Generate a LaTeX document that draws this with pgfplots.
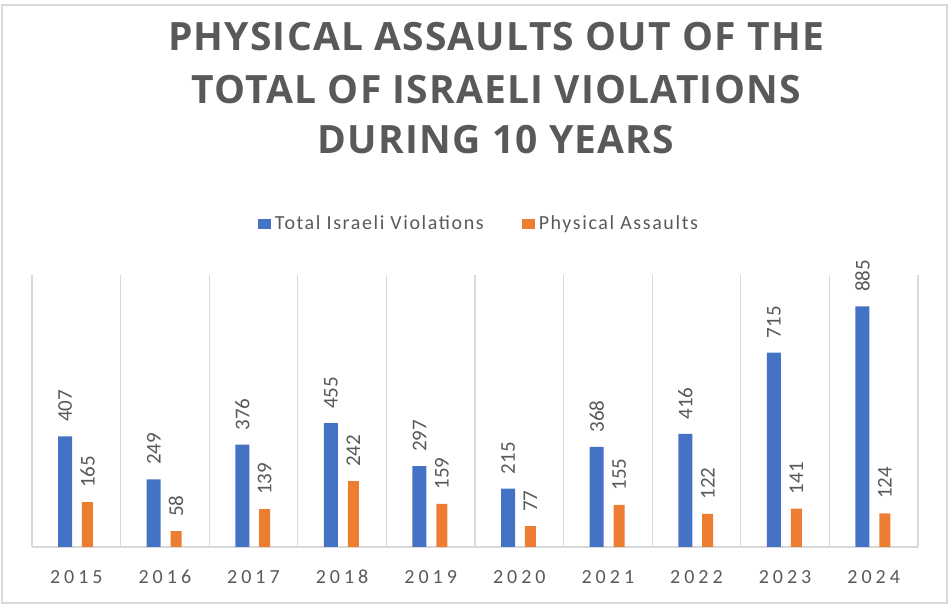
\documentclass[border=0pt]{standalone}
\usepackage{fontspec}
\setmainfont{Carlito}
\newfontfamily\titlefont{Open Sans}[LetterSpace=3]
\newfontfamily\tickfont{Carlito}[LetterSpace=20]
\newfontfamily\legfont{Carlito}[LetterSpace=8]
\usepackage{pgfplots}
\pgfplotsset{compat=1.18}

\definecolor{cblue}{HTML}{4472C4}
\definecolor{corange}{HTML}{ED7D31}
\definecolor{ctext}{HTML}{595959}
\definecolor{cgrid}{HTML}{D9D9D9}

\begin{document}
\begin{tikzpicture}
\useasboundingbox (-16pt,-29.5pt) rectangle (459pt,273.5pt);
\draw[cgrid, line width=0.7pt] (-15pt,-28pt) rectangle (457.5pt,271pt);

% title, three centred lines
\foreach \ln/\yy in {{PHYSICAL ASSAULTS OUT OF THE}/255, {TOTAL OF ISRAELI VIOLATIONS}/228.5, {DURING 10 YEARS}/203.5}
  \node[text=ctext, font=\titlefont\bfseries\fontsize{19.5}{22}\selectfont, inner sep=0pt] at (232pt,\yy pt) {\ln};

\begin{axis}[
    at={(0,0)}, anchor=south west,
    scale only axis,
    width=443pt, height=136pt,
    xmin=-0.5, xmax=9.5,
    ymin=0, ymax=1000,
    axis x line*=bottom,
    axis y line=none,
    x axis line style={cgrid, line width=0.8pt, -},
    xtick={0,...,9},
    xticklabels={2015,2016,2017,2018,2019,2020,2021,2022,2023,2024},
    minor xtick={-0.5,0.5,...,9.5},
    xminorgrids,
    minor grid style={cgrid, line width=0.6pt},
    major tick length=0pt, minor tick length=0pt,
    xticklabel style={font=\tickfont\fontsize{10}{12}\selectfont, text=ctext, anchor=center, yshift=-15pt},
    /pgf/number format/assume math mode=true,
    nodes near coords,
    legend style={draw=none, fill=none, at={(0.5056,1.1875)}, anchor=center,
        legend columns=2, font=\legfont\fontsize{10}{12}\selectfont, text=ctext,
        /tikz/every even column/.append style={column sep=17pt}},
    legend image code/.code={\fill (0pt,-2.5pt) rectangle (6.5pt,2.5pt);},
]

\addplot[ybar, bar width=7pt, bar shift=-5.6pt, fill=cblue, draw=none,
    nodes near coords style={font=\fontsize{10.5}{12}\selectfont, text=ctext,
        xshift=-5.6pt, rotate=90, anchor=west, inner xsep=7pt}] coordinates {
    (0,407) (1,249) (2,376) (3,455) (4,297)
    (5,215) (6,368) (7,416) (8,715) (9,885)
};
\addlegendentry{Total Israeli Violations}

\addplot[ybar, bar width=5.5pt, bar shift=5.6pt, fill=corange, draw=none,
    nodes near coords style={font=\fontsize{10.5}{12}\selectfont, text=ctext,
        xshift=5.6pt, rotate=90, anchor=west, inner xsep=7pt}] coordinates {
    (0,165) (1,58) (2,139) (3,242) (4,159)
    (5,77) (6,155) (7,122) (8,141) (9,124)
};
\addlegendentry{Physical Assaults}

\end{axis}
\end{tikzpicture}
\end{document}
